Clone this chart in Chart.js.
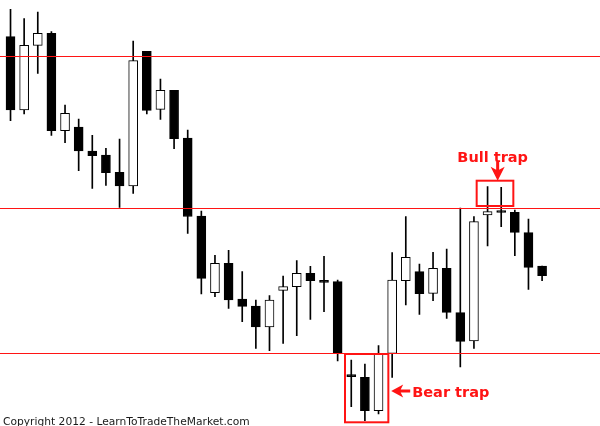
<!DOCTYPE html>
<html>
<head>
<meta charset="utf-8">
<script src="https://cdn.jsdelivr.net/npm/chart.js@4/dist/chart.umd.min.js"></script>
<style>
  html, body { margin: 0; padding: 0; background: #ffffff; }
  #wrap { width: 600px; height: 426px; }
</style>
</head>
<body>
<div id="wrap"><canvas id="c" width="600" height="426"></canvas></div>
<script>
// ---- Data (price units) ----
const categories = ['1','2','3','4','5','6','7','8','9','10','11','12','13','14','15','16','17','18','19','20',
  '21','22','23','24','25','26','27','28','29','30','31','32','33','34','35','36','37','38','39','40','','',''];
const opens  = [389.3,316,380.7,392.7,295.3,299,275,271,253.7,240,374.7,316.7,335.7,288,210,133.3,162.7,127,120,99,
  135.7,139.3,152.7,145.7,144.3,51.3,48.7,15.3,72.7,145.3,154.3,132.7,157.7,113.3,85,211,215.3,213.7,193.3,160];
const highs  = [416.7,407.3,414,394.3,321,307,290.7,277.7,287,385,374.7,347,335.7,296,215,170.7,175.7,154.3,126,130.3,
  150,165.3,159.7,169.7,146,66,62,80.3,173.3,209.3,162,173.7,177,218,209.3,239.3,238.7,216,207,160];
const lows   = [305.3,312,352.7,290.7,283.3,255.3,237.7,240.7,218.7,232.7,312,306.7,277.3,192.7,132,129.3,117.7,104.3,77.7,75.3,
  82.7,90.3,106.7,114.3,65,19.3,5.3,12,48.7,121,111.7,125.3,107.7,59,77.7,180,199.3,170.3,136.7,145.3];
const closes = [316,380.7,392.7,295.3,312.7,275,270.3,253.3,240,365.3,315.7,335.7,287.3,209.5,147.7,162.7,126,119.7,99,126,
  139.3,152.7,145.3,143.7,72.7,49.3,15.3,72.7,146,168.7,132.3,157.7,113.7,84.7,204.3,214.3,213.7,193.7,158.7,150.3];
const levels = [369.5, 217.5, 72.5];           // horizontal support / resistance prices
const priceMin = 0, priceMax = 426;

// trap boxes: candle-index range and price range
const bearTrap = { label: 'Bear trap', from: 24.54, to: 27.72, top: 72, bottom: 3.7, arrowIndex: 27.93, arrowPrice: 35 };
const bullTrap = { label: 'Bull trap', from: 34.2, to: 36.89, top: 245.3, bottom: 220, arrowIndex: 35.74, arrowPrice: 245.3 };
const copyright = 'Copyright 2012 - LearnToTradeTheMarket.com';

// ---- Build datasets ----
const bodies = opens.map((o, i) => [o, closes[i]]);
const wicks = lows.map((l, i) => [l, highs[i]]);
const bodyColors = opens.map((o, i) => closes[i] < o ? '#000000' : '#ffffff');

const RED = '#ff1414';

const annotate = {
  id: 'annotate',
  afterDatasetsDraw(chart) {
    const ctx = chart.ctx;
    const x = chart.scales.x, y = chart.scales.y;
    ctx.save();
    // horizontal levels
    ctx.strokeStyle = RED;
    ctx.lineWidth = 1;
    levels.forEach(v => {
      const py = y.getPixelForValue(v);
      ctx.beginPath();
      ctx.moveTo(0, py);
      ctx.lineTo(chart.width, py);
      ctx.stroke();
    });
    // boxes
    ctx.lineWidth = 2;
    [bearTrap, bullTrap].forEach(b => {
      const x0 = x.getPixelForValue(b.from), x1 = x.getPixelForValue(b.to);
      const y0 = y.getPixelForValue(b.top), y1 = y.getPixelForValue(b.bottom);
      ctx.strokeRect(x0, y0, x1 - x0, y1 - y0);
    });
    ctx.fillStyle = RED;
    // bear trap arrow (pointing left)
    {
      const tx = x.getPixelForValue(bearTrap.arrowIndex), ty = y.getPixelForValue(bearTrap.arrowPrice);
      ctx.beginPath();
      ctx.moveTo(tx, ty);
      ctx.lineTo(tx + 12, ty - 6.5);
      ctx.lineTo(tx + 9.5, ty - 1.5);
      ctx.lineTo(tx + 19, ty - 1.5);
      ctx.lineTo(tx + 19, ty + 1.5);
      ctx.lineTo(tx + 9.5, ty + 1.5);
      ctx.lineTo(tx + 12, ty + 6.5);
      ctx.closePath();
      ctx.fill();
      ctx.font = 'bold 14.5px "DejaVu Sans"';
      ctx.textBaseline = 'alphabetic';
      ctx.textAlign = 'left';
      ctx.fillText(bearTrap.label, tx + 21, ty + 6.3);
    }
    // bull trap arrow (pointing down)
    {
      const tx = x.getPixelForValue(bullTrap.arrowIndex), ty = y.getPixelForValue(bullTrap.arrowPrice);
      ctx.beginPath();
      ctx.moveTo(tx, ty);
      ctx.lineTo(tx - 7, ty - 14);
      ctx.lineTo(tx - 1.5, ty - 11);
      ctx.lineTo(tx - 1.5, ty - 19);
      ctx.lineTo(tx + 1.5, ty - 19);
      ctx.lineTo(tx + 1.5, ty - 11);
      ctx.lineTo(tx + 7, ty - 14);
      ctx.closePath();
      ctx.fill();
      ctx.font = 'bold 14.5px "DejaVu Sans"';
      ctx.textBaseline = 'alphabetic';
      ctx.textAlign = 'center';
      ctx.fillText(bullTrap.label, tx - 5, ty - 19);
    }
    // copyright
    ctx.fillStyle = '#1a1a1a';
    ctx.font = '10.7px "DejaVu Sans"';
    ctx.textAlign = 'left';
    ctx.textBaseline = 'alphabetic';
    ctx.fillText(copyright, 3, 425);
    ctx.restore();
  }
};

new Chart(document.getElementById('c'), {
  type: 'bar',
  data: {
    labels: categories,
    datasets: [
      {
        label: 'Body',
        data: bodies,
        backgroundColor: bodyColors,
        borderColor: '#000000',
        borderWidth: 1,
        borderSkipped: false,
        barThickness: 9,
        grouped: false,
        order: 0
      },
      {
        label: 'Wick',
        data: wicks,
        backgroundColor: '#000000',
        borderWidth: 0,
        barThickness: 1,
        grouped: false,
        order: 1
      }
    ]
  },
  options: {
    responsive: false,
    animation: false,
    devicePixelRatio: 1,
    layout: { padding: { left: 3.7, right: 10.2, top: 0, bottom: 0 } },
    plugins: { legend: { display: false }, tooltip: { enabled: false } },
    scales: {
      x: { display: false, offset: true, grid: { display: false } },
      y: { display: false, min: priceMin, max: priceMax, grid: { display: false } }
    }
  },
  plugins: [annotate]
});
</script>
</body>
</html>
